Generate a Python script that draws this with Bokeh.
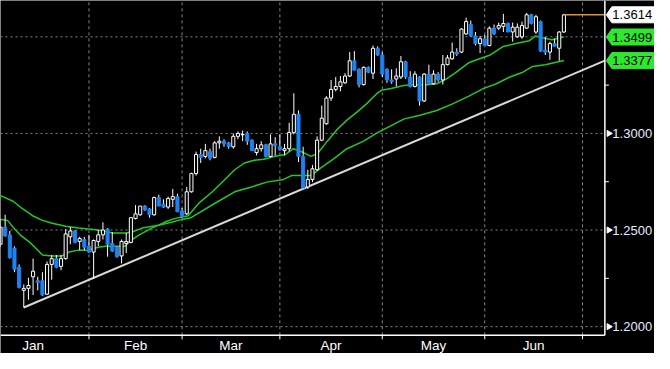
import math
from bokeh.plotting import figure
from bokeh.models import ColumnDataSource
from bokeh.core.properties import value
from bokeh.embed import file_html
from bokeh.resources import INLINE

# ---------------- data ----------------
opens = [1.2426, 1.2515, 1.2475, 1.2406, 1.2307, 1.2188, 1.2198, 1.2258, 1.2238, 1.2238,
         1.2168, 1.2322, 1.2352, 1.2312, 1.2352, 1.2465, 1.2495, 1.2441, 1.2451, 1.2416,
         1.2386, 1.2441, 1.2475, 1.2505, 1.2431, 1.2411, 1.2366, 1.2431, 1.2436, 1.2560,
         1.2579, 1.2624, 1.2609, 1.2579, 1.2668, 1.2634, 1.2619, 1.2659, 1.2673, 1.2599,
         1.2584, 1.2698, 1.2792, 1.2891, 1.2881, 1.2906, 1.2876, 1.2951, 1.2960, 1.2951,
         1.2931, 1.2985, 1.2993, 1.3000, 1.2965, 1.2901, 1.2921, 1.2941, 1.2881, 1.2946,
         1.2931, 1.2911, 1.2921, 1.3005, 1.3099, 1.2881, 1.2723, 1.2762, 1.2812, 1.2965,
         1.3050, 1.3183, 1.3228, 1.3243, 1.3262, 1.3297, 1.3376, 1.3332, 1.3253, 1.3342,
         1.3312, 1.3441, 1.3406, 1.3332, 1.3277, 1.3282, 1.3292, 1.3371, 1.3292, 1.3243,
         1.3292, 1.3168, 1.3307, 1.3257, 1.3307, 1.3277, 1.3356, 1.3386, 1.3421, 1.3421,
         1.3515, 1.3564, 1.3505, 1.3465, 1.3490, 1.3455, 1.3545, 1.3545, 1.3554, 1.3569,
         1.3525, 1.3500, 1.3500, 1.3545, 1.3614, 1.3525, 1.3579, 1.3431, 1.3421, 1.3465,
         1.3441, 1.3525]
highs = [1.2560, 1.2579, 1.2495, 1.2416, 1.2322, 1.2218, 1.2253, 1.2352, 1.2258, 1.2282,
         1.2337, 1.2371, 1.2371, 1.2371, 1.2505, 1.2515, 1.2500, 1.2465, 1.2465, 1.2475,
         1.2451, 1.2500, 1.2540, 1.2510, 1.2490, 1.2416, 1.2451, 1.2485, 1.2564, 1.2629,
         1.2624, 1.2629, 1.2614, 1.2673, 1.2683, 1.2659, 1.2673, 1.2713, 1.2688, 1.2614,
         1.2723, 1.2797, 1.2906, 1.2921, 1.2946, 1.2921, 1.2960, 1.2985, 1.2970, 1.2956,
         1.3000, 1.3010, 1.3015, 1.3010, 1.2970, 1.2946, 1.2960, 1.2946, 1.2995, 1.2980,
         1.2995, 1.2946, 1.3055, 1.3208, 1.3119, 1.2931, 1.2812, 1.2837, 1.2985, 1.3144,
         1.3193, 1.3277, 1.3292, 1.3297, 1.3312, 1.3421, 1.3426, 1.3337, 1.3347, 1.3347,
         1.3455, 1.3451, 1.3421, 1.3337, 1.3332, 1.3337, 1.3401, 1.3376, 1.3322, 1.3322,
         1.3297, 1.3312, 1.3356, 1.3327, 1.3317, 1.3406, 1.3406, 1.3470, 1.3441, 1.3545,
         1.3599, 1.3584, 1.3525, 1.3505, 1.3510, 1.3554, 1.3564, 1.3574, 1.3619, 1.3574,
         1.3574, 1.3569, 1.3579, 1.3624, 1.3619, 1.3614, 1.3584, 1.3500, 1.3475, 1.3490,
         1.3530, 1.3619]
lows = [1.2411, 1.2465, 1.2352, 1.2282, 1.2198, 1.2099, 1.2139, 1.2164, 1.2188, 1.2159,
        1.2164, 1.2243, 1.2302, 1.2292, 1.2347, 1.2426, 1.2431, 1.2396, 1.2396, 1.2381,
        1.2248, 1.2416, 1.2451, 1.2362, 1.2386, 1.2357, 1.2327, 1.2381, 1.2431, 1.2555,
        1.2574, 1.2599, 1.2564, 1.2574, 1.2624, 1.2614, 1.2609, 1.2619, 1.2594, 1.2564,
        1.2579, 1.2693, 1.2782, 1.2847, 1.2871, 1.2861, 1.2871, 1.2921, 1.2931, 1.2921,
        1.2921, 1.2970, 1.2960, 1.2941, 1.2911, 1.2886, 1.2906, 1.2876, 1.2876, 1.2886,
        1.2911, 1.2886, 1.2906, 1.2995, 1.2852, 1.2713, 1.2713, 1.2748, 1.2807, 1.2960,
        1.3045, 1.3168, 1.3218, 1.3218, 1.3257, 1.3292, 1.3327, 1.3238, 1.3248, 1.3312,
        1.3282, 1.3401, 1.3292, 1.3262, 1.3257, 1.3243, 1.3282, 1.3282, 1.3238, 1.3238,
        1.3144, 1.3163, 1.3253, 1.3253, 1.3267, 1.3253, 1.3352, 1.3381, 1.3401, 1.3416,
        1.3510, 1.3500, 1.3455, 1.3416, 1.3455, 1.3451, 1.3510, 1.3535, 1.3525, 1.3525,
        1.3475, 1.3495, 1.3490, 1.3540, 1.3564, 1.3515, 1.3421, 1.3406, 1.3381, 1.3451,
        1.3376, 1.3520]
closes = [1.2515, 1.2470, 1.2357, 1.2297, 1.2203, 1.2198, 1.2213, 1.2287, 1.2228, 1.2164,
          1.2322, 1.2352, 1.2307, 1.2352, 1.2480, 1.2495, 1.2436, 1.2456, 1.2411, 1.2386,
          1.2446, 1.2475, 1.2500, 1.2426, 1.2391, 1.2362, 1.2441, 1.2441, 1.2564, 1.2584,
          1.2624, 1.2604, 1.2579, 1.2668, 1.2624, 1.2619, 1.2663, 1.2673, 1.2594, 1.2569,
          1.2698, 1.2792, 1.2891, 1.2876, 1.2911, 1.2871, 1.2951, 1.2960, 1.2946, 1.2931,
          1.2985, 1.3000, 1.2995, 1.2960, 1.2911, 1.2921, 1.2941, 1.2881, 1.2946, 1.2936,
          1.2916, 1.2921, 1.3005, 1.3099, 1.2881, 1.2718, 1.2762, 1.2817, 1.2965, 1.3079,
          1.3183, 1.3228, 1.3243, 1.3267, 1.3297, 1.3376, 1.3327, 1.3253, 1.3342, 1.3317,
          1.3441, 1.3406, 1.3307, 1.3277, 1.3267, 1.3297, 1.3371, 1.3292, 1.3243, 1.3307,
          1.3168, 1.3307, 1.3257, 1.3307, 1.3277, 1.3356, 1.3391, 1.3421, 1.3411, 1.3540,
          1.3579, 1.3505, 1.3465, 1.3490, 1.3455, 1.3545, 1.3515, 1.3559, 1.3569, 1.3525,
          1.3550, 1.3550, 1.3559, 1.3614, 1.3569, 1.3604, 1.3426, 1.3421, 1.3465, 1.3451,
          1.3525, 1.3614]

# moving averages (x in bar index)
ma_fast_x = [0, 1.5, 2.7, 4.2, 6.3, 7.8, 9.0, 11.1, 13.2, 14.7, 16.8, 18.9, 21.0, 22.6, 26.8,
             27.7, 29.8, 32.5, 35.2, 37.3, 40.3, 42.6, 45.5, 48.2, 50.3, 52.4, 54.5, 56.6,
             58.7, 61.2, 62.9, 64.6, 66.7, 68.1, 70.2, 72.3, 74.4, 76.5, 78.6, 80.7, 81.8,
             83.9, 86.6, 88.7, 91.6, 93.7, 95.8, 97.9, 100.6, 102.3, 105.2, 108.0, 110.7,
             113.6, 114.9, 116.4, 118.4, 121.0]
ma_fast_y = [1.2554, 1.2550, 1.2515, 1.2475, 1.2436, 1.2401, 1.2371, 1.2366, 1.2366, 1.2386,
             1.2396, 1.2396, 1.2411, 1.2416, 1.2416, 1.2441, 1.2475, 1.2510, 1.2540, 1.2559,
             1.2574, 1.2639, 1.2698, 1.2762, 1.2812, 1.2847, 1.2861, 1.2866, 1.2881, 1.2891,
             1.2921, 1.2906, 1.2881, 1.2896, 1.2960, 1.3020, 1.3069, 1.3109, 1.3153, 1.3203,
             1.3223, 1.3233, 1.3248, 1.3252, 1.3252, 1.3257, 1.3282, 1.3317, 1.3366, 1.3381,
             1.3406, 1.3450, 1.3465, 1.3480, 1.3505, 1.3495, 1.3485, 1.3499]
ma_slow_x = [0, 2.7, 4.8, 6.9, 9.0, 11.1, 14.0, 16.8, 18.9, 21.0, 24.1, 26.8, 28.3, 30.4, 34.0,
             36.7, 38.8, 40.9, 46.8, 50.3, 53.9, 57.2, 60.8, 62.5, 66.7, 68.8, 71.7, 74.4,
             78.0, 80.7, 86.6, 90.1, 93.7, 97.1, 100.6, 103.8, 106.5, 109.4, 112.2, 114.3,
             117.0, 121.0]
ma_slow_y = [1.2678, 1.2649, 1.2609, 1.2574, 1.2550, 1.2535, 1.2520, 1.2510, 1.2505, 1.2500,
             1.2485, 1.2485, 1.2490, 1.2510, 1.2525, 1.2540, 1.2554, 1.2564, 1.2649, 1.2698,
             1.2723, 1.2748, 1.2762, 1.2782, 1.2782, 1.2822, 1.2871, 1.2921, 1.2960, 1.3000,
             1.3074, 1.3094, 1.3119, 1.3153, 1.3193, 1.3233, 1.3257, 1.3292, 1.3317, 1.3347,
             1.3356, 1.3377]

# trend line (from the January low, extended to the axis)
trend_x = [5, 129.8]
trend_y = [1.2099, 1.3377]

# months
month_names = ["Jan", "Feb", "Mar", "Apr", "May", "Jun"]
month_centers = [7, 29, 49.5, 71, 93, 114.5]
month_starts = [19, 39, 60, 82, 104, 125]

y_major = [1.20, 1.25, 1.30]
y_labels = ["1.2000", "1.2500", "1.3000"]
y_minor = [1.225, 1.275, 1.325]
y_grid = [1.20, 1.25, 1.30, 1.35]

# ---------------- figure ----------------
X_END = 129.8          # position of the price axis (bar units)
X_FULL = 140.46        # right edge of the canvas
Y_AXIS = 1.1955        # position of the time axis
Y_TOP = 1.3688
Y_BOT = 1.1861
PXX = X_FULL / 654.0   # data units per pixel (x)
PXY = (Y_TOP - Y_BOT) / 353.0
FONT = "'Liberation Sans', Arial, sans-serif"
FS = "13px"
BLUE = "#1e82f0"
GREEN = "#22c922"
TAGGREEN = "#2ee82e"

p = figure(width=654, height=353, x_range=(0, X_FULL), y_range=(Y_BOT, Y_TOP),
           x_axis_location=None, y_axis_location=None,
           output_backend="svg", toolbar_location=None,
           background_fill_color="black", border_fill_color="black",
           outline_line_color=None, min_border=0)
p.xgrid.visible = False
p.ygrid.visible = False

idx = list(range(len(closes)))
up = [c >= o for o, c in zip(opens, closes)]
src_up = ColumnDataSource(dict(
    x=[i for i, u in zip(idx, up) if u],
    o=[o for o, u in zip(opens, up) if u],
    c=[c for c, u in zip(closes, up) if u]))
src_dn = ColumnDataSource(dict(
    x=[i for i, u in zip(idx, up) if not u],
    o=[o for o, u in zip(opens, up) if not u],
    c=[c for c, u in zip(closes, up) if not u]))

# dotted grid
p.segment(x0=[0] * len(y_grid), x1=[X_END] * len(y_grid), y0=y_grid, y1=y_grid,
          line_color="#858585", line_dash="2 3", line_width=1)
p.segment(x0=month_starts, x1=month_starts, y0=[Y_AXIS] * len(month_starts),
          y1=[Y_TOP] * len(month_starts), line_color="#858585", line_dash="3 3", line_width=1)

# trend line
p.line(trend_x, trend_y, line_color="#d8d8d8", line_width=2)

# moving averages
p.line(ma_slow_x, ma_slow_y, line_color=GREEN, line_width=1.5)
p.line(ma_fast_x, ma_fast_y, line_color=GREEN, line_width=1.5)

# candles
p.segment(x0=idx, y0=highs, x1=idx, y1=lows, line_color="white", line_width=1)
p.vbar(x="x", top="c", bottom="o", width=0.66, source=src_up,
       fill_color="black", line_color="white", line_width=1)
p.vbar(x="x", top="o", bottom="c", width=0.66, source=src_dn,
       fill_color=BLUE, line_color=BLUE, line_width=1)

# last price line
p.segment(x0=[idx[-1]], y0=[closes[-1]], x1=[X_END], y1=[closes[-1]],
          line_color="#e0922e", line_width=1.5)

# ---- time axis (bottom) ----
p.segment(x0=[0], x1=[X_END], y0=[Y_AXIS], y1=[Y_AXIS], line_color="white", line_width=1.5)
p.segment(x0=month_starts, x1=month_starts, y0=[Y_AXIS] * len(month_starts),
          y1=[Y_AXIS - 4 * PXY] * len(month_starts), line_color="white", line_width=1)
p.text(x=month_centers, y=[Y_AXIS - 10.5 * PXY] * len(month_centers), text=month_names,
       text_color="white", text_font=value(FONT), text_font_size=value("13.5px"),
       text_align="center", text_baseline="middle")

# ---- price axis (right) ----
p.segment(x0=[X_END], x1=[X_END], y0=[Y_AXIS], y1=[Y_TOP], line_color="white", line_width=1.5)
p.segment(x0=[X_END] * len(y_minor), x1=[X_END + 4 * PXX] * len(y_minor), y0=y_minor,
          y1=y_minor, line_color="white", line_width=1)
p.scatter(x=[X_END + 4 * PXX] * len(y_major), y=y_major, marker="triangle", size=6,
          angle=-math.pi / 2, fill_color="white", line_color="white")
p.text(x=[X_END + 7.5 * PXX] * len(y_major), y=y_major, text=y_labels,
       text_color="#e4ecff", text_font=value(FONT), text_font_size=value(FS),
       text_align="left", text_baseline="middle")

# ---- value tags ----
tag_vals = [closes[-1], ma_fast_y[-1], ma_slow_y[-1]]
tag_cols = ["white", TAGGREEN, TAGGREEN]
half = 8 * PXY
xs, ys = [], []
for v in tag_vals:
    xs.append([X_END + 1.5 * PXX, X_END + 7 * PXX, X_FULL, X_FULL, X_END + 7 * PXX])
    ys.append([v, v + half, v + half, v - half, v - half])
p.patches(xs, ys, fill_color=tag_cols, line_color=tag_cols, line_width=1)
p.text(x=[X_END + 7.5 * PXX] * len(tag_vals), y=tag_vals,
       text=[f"{v:.4f}" for v in tag_vals], text_color="black",
       text_font=value(FONT), text_font_size=value(FS),
       text_align="left", text_baseline="middle")

open("out.html", "w").write(file_html(p, INLINE))
